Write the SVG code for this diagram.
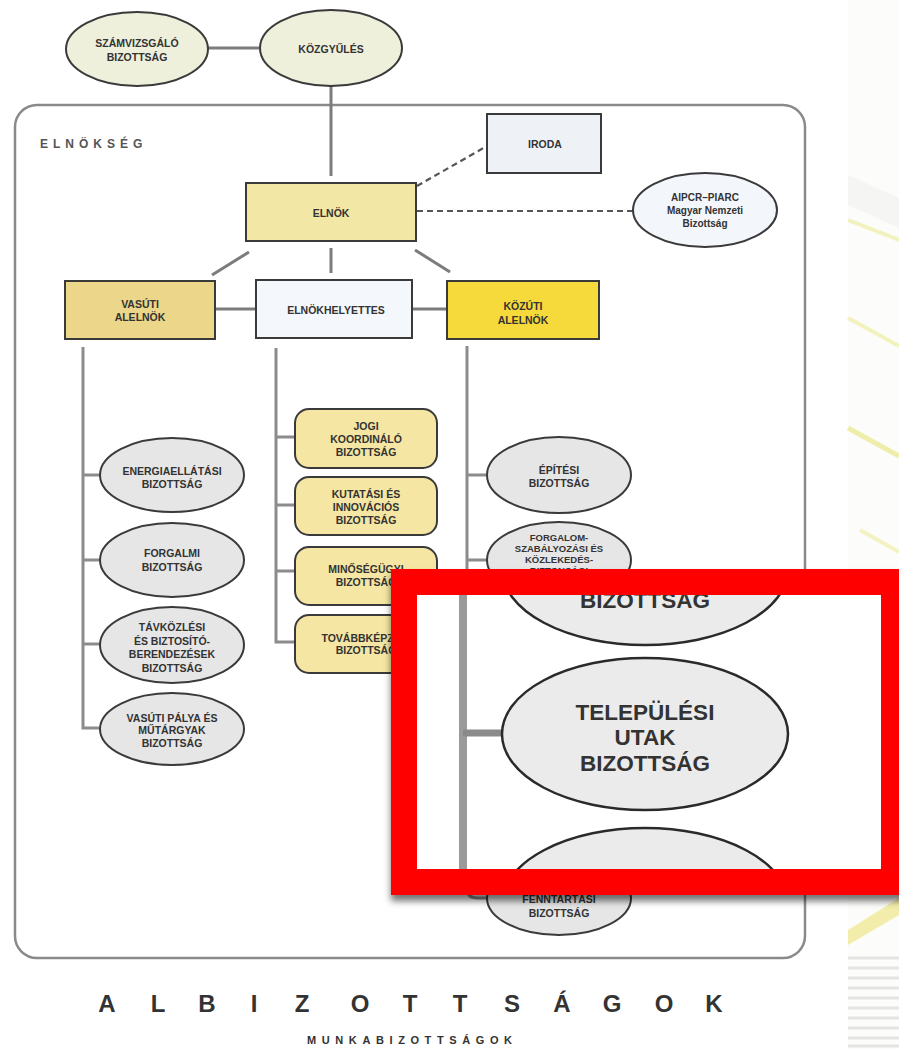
<svg xmlns="http://www.w3.org/2000/svg" width="899" height="1049" viewBox="0 0 899 1049">
<style>
.t{font-family:"Liberation Sans",Arial,sans-serif;font-weight:bold;font-size:10.5px;fill:#333;text-anchor:middle}
.ts{font-size:9.5px}
.tm{font-weight:bold;font-size:10px}
.tb{font-family:"Liberation Sans",Arial,sans-serif;font-weight:bold;font-size:22.5px;fill:#333;text-anchor:middle}
.box{stroke:#3a3a3a;stroke-width:2}
.gray{fill:#e6e6e6;stroke:#3a3a3a;stroke-width:2}
.mid{fill:#f5e6a3;stroke:#3a3a3a;stroke-width:2}
.ln{stroke:#7c7c7c;stroke-width:3;fill:none}
.col{stroke:#8c8c8c;stroke-width:3;fill:none}
.dash{stroke:#555;stroke-width:2.2;stroke-dasharray:6 4;fill:none}
.big{fill:#ebebeb;stroke:#2a2a2a;stroke-width:2.5}
</style>
<defs>
<filter id="sh" x="-5%" y="-5%" width="110%" height="120%">
<feDropShadow dx="0" dy="6" stdDeviation="3.5" flood-color="#000" flood-opacity="0.55"/>
</filter>
<clipPath id="insetClip"><rect x="417" y="595" width="464" height="274"/></clipPath>
</defs>
<rect width="899" height="1049" fill="#ffffff"/>
<g id="decor">
<rect x="848" y="0" width="51" height="1049" fill="#fcfcfa"/>
<polygon points="848,175 899,198 899,228 848,205" fill="#ededed" opacity="0.45"/>
<line x1="848" y1="220" x2="899" y2="240" stroke="#ecec98" stroke-width="4" opacity="0.6"/>
<line x1="848" y1="318" x2="899" y2="346" stroke="#ecec98" stroke-width="4" opacity="0.6"/>
<line x1="848" y1="428" x2="899" y2="456" stroke="#e8e880" stroke-width="5" opacity="0.65"/>
<line x1="860" y1="530" x2="899" y2="552" stroke="#e8e880" stroke-width="4" opacity="0.45"/>
<polygon points="848,930 899,898 899,915 848,945" fill="#f0e890" opacity="0.75"/>
<g stroke="#e4e4e4" stroke-width="3">
<line x1="848" y1="958" x2="899" y2="958"/><line x1="848" y1="968" x2="899" y2="968"/>
<line x1="848" y1="978" x2="899" y2="978"/><line x1="848" y1="988" x2="899" y2="988"/>
<line x1="848" y1="998" x2="899" y2="998"/><line x1="848" y1="1008" x2="899" y2="1008"/>
<line x1="848" y1="1018" x2="899" y2="1018"/><line x1="848" y1="1028" x2="899" y2="1028"/>
<line x1="848" y1="1038" x2="899" y2="1038"/><line x1="848" y1="1046" x2="899" y2="1046"/>
</g>
</g>
<g id="panel">
<rect x="15" y="105" width="790" height="853" rx="22" fill="none" stroke="#8a8a8a" stroke-width="2.5"/>
<text x="40" y="148" style="font-family:'Liberation Sans',Arial,sans-serif;font-weight:bold;font-size:12px;fill:#555;letter-spacing:5px">ELNÖKSÉG</text>
</g>
<g id="connectors">
<line class="ln" x1="208" y1="48" x2="259" y2="48"/>
<line class="ln" x1="331" y1="86" x2="331" y2="176"/>
<line class="ln" x1="249" y1="252" x2="212" y2="275"/>
<line class="ln" x1="331" y1="248" x2="331" y2="273"/>
<line class="ln" x1="415" y1="250" x2="450" y2="272"/>
<line class="ln" x1="215" y1="309" x2="256" y2="309"/>
<line class="ln" x1="412" y1="309" x2="447" y2="309"/>
<line class="dash" x1="417" y1="186" x2="487" y2="146"/>
<line class="dash" x1="417" y1="211" x2="633" y2="211"/>
<path class="col" d="M83 347 V728 H100 M83 475 H100 M83 560 H100 M83 644 H100"/>
<path class="col" d="M276 348 V642 H295 M276 437 H295 M276 505 H295 M276 571 H295"/>
<path class="col" d="M467 346 V888 Q467 898 477 898 H487 M467 475 H487 M467 560 H487"/>
</g>
<g id="szamvizsgalo">
<ellipse cx="137" cy="49" rx="71" ry="37" fill="#eef0dc" class="box"/>
<text class="t" x="137" y="47">SZÁMVIZSGÁLÓ</text>
<text class="t" x="137" y="61">BIZOTTSÁG</text>
</g>
<g id="kozgyules">
<ellipse cx="331" cy="48" rx="71" ry="38" fill="#eef0dc" class="box"/>
<text class="t" x="331" y="53">KÖZGYŰLÉS</text>
</g>
<g id="elnok">
<rect x="246" y="183" width="170" height="58" fill="#f3e7a6" class="box"/>
<text class="t" x="331" y="217">ELNÖK</text>
</g>
<g id="iroda">
<rect x="487" y="114" width="114" height="59" fill="#eef2f6" class="box"/>
<text class="t" x="545" y="148">IRODA</text>
</g>
<g id="aipcr">
<ellipse cx="705" cy="210" rx="72" ry="37" fill="#f3f6fa" class="box"/>
<text class="t tm" x="705" y="201">AIPCR–PIARC</text>
<text class="t tm" x="705" y="214">Magyar Nemzeti</text>
<text class="t tm" x="705" y="227">Bizottság</text>
</g>
<g id="vasuti-alelnok">
<rect x="65" y="281" width="150" height="58" fill="#ecd68a" class="box"/>
<text class="t" x="140" y="308">VASÚTI</text>
<text class="t" x="140" y="321">ALELNÖK</text>
</g>
<g id="elnokhelyettes">
<rect x="256" y="280" width="156" height="58" fill="#f4f7fb" class="box"/>
<text class="t" x="336" y="314">ELNÖKHELYETTES</text>
</g>
<g id="kozuti-alelnok">
<rect x="447" y="281" width="152" height="58" fill="#f6da3c" class="box"/>
<text class="t" x="523" y="310">KÖZÚTI</text>
<text class="t" x="523" y="324">ALELNÖK</text>
</g>
<g id="energia">
<ellipse cx="172" cy="475" rx="72" ry="37" class="gray"/>
<text class="t" x="172" y="475">ENERGIAELLÁTÁSI</text>
<text class="t" x="172" y="488">BIZOTTSÁG</text>
</g>
<g id="forgalmi">
<ellipse cx="172" cy="560" rx="72" ry="37" class="gray"/>
<text class="t" x="172" y="557">FORGALMI</text>
<text class="t" x="172" y="571">BIZOTTSÁG</text>
</g>
<g id="tavkozlesi">
<ellipse cx="172" cy="645" rx="72" ry="38" class="gray"/>
<text class="t" x="172" y="631">TÁVKÖZLÉSI</text>
<text class="t" x="172" y="645">ÉS BIZTOSÍTÓ-</text>
<text class="t" x="172" y="658">BERENDEZÉSEK</text>
<text class="t" x="172" y="672">BIZOTTSÁG</text>
</g>
<g id="vasuti-palya">
<ellipse cx="172" cy="729" rx="72" ry="36" class="gray"/>
<text class="t" x="172" y="722">VASÚTI PÁLYA ÉS</text>
<text class="t" x="172" y="734">MŰTÁRGYAK</text>
<text class="t" x="172" y="747">BIZOTTSÁG</text>
</g>
<g id="jogi">
<rect x="295" y="409" width="142" height="59" rx="14" class="mid"/>
<text class="t" x="366" y="430">JOGI</text>
<text class="t" x="366" y="443">KOORDINÁLÓ</text>
<text class="t" x="366" y="456">BIZOTTSÁG</text>
</g>
<g id="kutatasi">
<rect x="295" y="477" width="142" height="58" rx="14" class="mid"/>
<text class="t" x="366" y="498">KUTATÁSI ÉS</text>
<text class="t" x="366" y="511">INNOVÁCIÓS</text>
<text class="t" x="366" y="524">BIZOTTSÁG</text>
</g>
<g id="minosegugyi">
<rect x="295" y="547" width="142" height="58" rx="14" class="mid"/>
<text class="t" x="366" y="573">MINŐSÉGÜGYI</text>
<text class="t" x="366" y="586">BIZOTTSÁG</text>
</g>
<g id="tovabbkepzesi">
<rect x="295" y="615" width="142" height="58" rx="14" class="mid"/>
<text class="t" x="366" y="642">TOVÁBBKÉPZÉSI</text>
<text class="t" x="366" y="654">BIZOTTSÁG</text>
</g>
<g id="epitesi">
<ellipse cx="559" cy="475" rx="72" ry="38" class="gray"/>
<text class="t" x="559" y="474">ÉPÍTÉSI</text>
<text class="t" x="559" y="487">BIZOTTSÁG</text>
</g>
<g id="forgalom-szabalyozasi">
<ellipse cx="559" cy="560" rx="72" ry="38" class="gray"/>
<text class="t ts" x="559" y="541">FORGALOM-</text>
<text class="t ts" x="559" y="552">SZABÁLYOZÁSI ÉS</text>
<text class="t ts" x="559" y="563">KÖZLEKEDÉS-</text>
<text class="t ts" x="559" y="574">BIZTONSÁGI</text>
</g>
<g id="fenntartasi">
<ellipse cx="559" cy="898" rx="72" ry="37" class="gray"/>
<text class="t" x="559" y="903">FENNTARTÁSI</text>
<text class="t" x="559" y="917">BIZOTTSÁG</text>
</g>
<g id="titles">
<text class="tb" style="font-size:24px" y="1012" x="107 158 207 254 302 360 410 460 512 562 612 664 714">ALBIZOTTSÁGOK</text>
<text x="307" y="1044" style="font-family:'Liberation Sans',Arial,sans-serif;font-weight:bold;font-size:11px;fill:#333;letter-spacing:5.6px">MUNKABIZOTTSÁGOK</text>
</g>
<g id="inset">
<rect x="391" y="569" width="516" height="326" fill="#ff0000" filter="url(#sh)"/>
<rect x="417" y="595" width="464" height="274" fill="#ffffff"/>
<g clip-path="url(#insetClip)">
<line x1="463" y1="595" x2="463" y2="869" stroke="#9a9a9a" stroke-width="8"/>
<line x1="463" y1="733" x2="504" y2="733" stroke="#8a8a8a" stroke-width="7"/>
<ellipse cx="645" cy="569" rx="143" ry="76" class="big"/>
<text class="tb" x="645" y="608">BIZOTTSÁG</text>
<ellipse cx="645" cy="734" rx="143" ry="76" class="big"/>
<text class="tb" x="645" y="720">TELEPÜLÉSI</text>
<text class="tb" x="645" y="745">UTAK</text>
<text class="tb" x="645" y="771">BIZOTTSÁG</text>
<ellipse cx="645" cy="904" rx="143" ry="76" class="big"/>
</g>
</g>
</svg>
